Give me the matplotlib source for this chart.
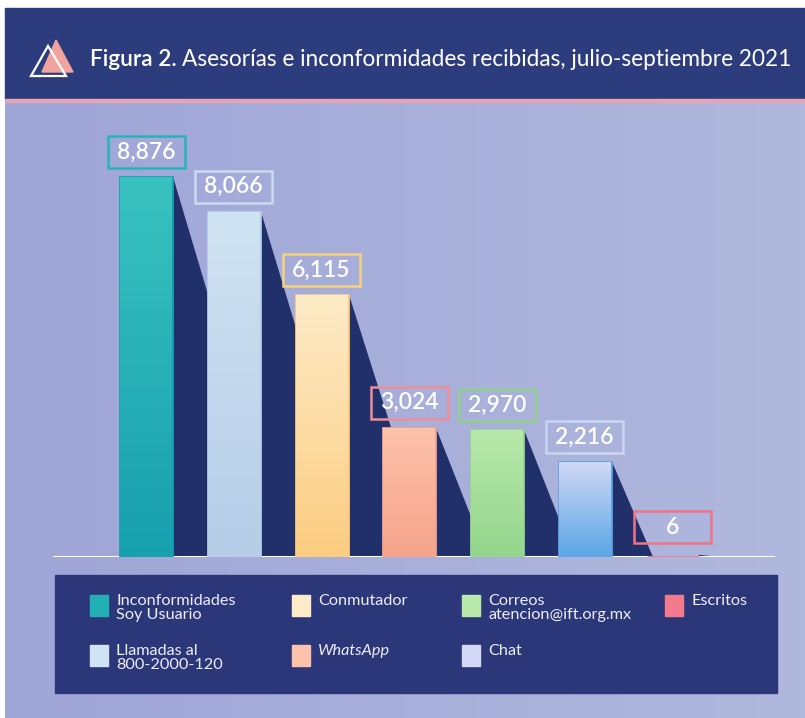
import matplotlib.pyplot as plt
import numpy as np
from matplotlib.patches import Rectangle, Polygon
from matplotlib.colors import to_rgb

plt.rcParams['font.family'] = ['Lato', 'DejaVu Sans']

categories = ['Inconformidades\nSoy Usuario', 'Llamadas al\n800-2000-120', 'Conmutador',
              'WhatsApp', 'Correos\natencion@ift.org.mx', 'Chat', 'Escritos']
values = [8876, 8066, 6115, 3024, 2970, 2216, 6]
labels = ['8,876', '8,066', '6,115', '3,024', '2,970', '2,216', '6']

# gradient colours (top, bottom) and label box edge colours
bar_top = ['#38c2bf', '#d0e3f2', '#feebc8', '#fcc2ab', '#b8e8aa', '#d2d8f6', '#f27a8c']
bar_bot = ['#17a0ae', '#b6cde8', '#fccd80', '#f7a38b', '#94d68d', '#5aa6e6', '#ee6a80']
box_col = ['#2ab3b6', '#c9dcef', '#f6d27c', '#ef8c96', '#8fd18b', '#c9d6f4', '#ef7486']

W, H = 805, 718
fig = plt.figure(figsize=(W / 100, H / 100), dpi=100, facecolor='white')

# ---- background layer in pixel coords ----
bg = fig.add_axes([0, 0, 1, 1])
bg.set_xlim(0, W)
bg.set_ylim(H, 0)
bg.axis('off')

c1, c2 = np.array(to_rgb('#9fa6d8')), np.array(to_rgb('#b0b8dd'))
gx = np.linspace(0, 1, 200)
grad = c1[None, None, :] * (1 - gx)[None, :, None] + c2[None, None, :] * gx[None, :, None]
bg.imshow(grad, extent=[5, W, H, 8], aspect='auto', zorder=0)

# header
bg.add_patch(Rectangle((5, 8), W - 5, 91, color='#2d3c7d', zorder=1))
bg.add_patch(Rectangle((5, 99), W - 5, 3, color='#e4a5b5', zorder=1))
bg.add_patch(Polygon([(56, 40), (42, 72), (73, 72)], closed=True, color='#f3a39f', zorder=2))
bg.add_patch(Polygon([(48, 46), (31, 76), (66, 76)], closed=True, fill=False,
                     edgecolor='white', lw=1.6, zorder=3))

t1 = bg.text(90, 59, 'Figura 2.', color='white', fontsize=16.3, fontweight='semibold',
             va='center', ha='left', zorder=3)
fig.canvas.draw()
bb = t1.get_window_extent(fig.canvas.get_renderer())
x_next = 90 + bb.width + 5
bg.text(x_next, 59, 'Asesorías e inconformidades recibidas, julio-septiembre 2021',
        color='white', fontsize=16.3, va='center', ha='left', zorder=3)

# legend box
bg.add_patch(Rectangle((55, 575), 722, 118, color='#2b3779', zorder=1))
leg_order = [0, 2, 4, 6, 1, 3, 5]
col_x = [90, 292, 462, 665]
row_y = [595, 645]
for k, i in enumerate(leg_order):
    cx = col_x[k % 4]
    ry = row_y[k // 4]
    bg.add_patch(Rectangle((cx, ry), 18, 21, color=bar_top[i] if i != 0 else '#22b0b4', zorder=2))
    style = 'italic' if categories[i] == 'WhatsApp' else 'normal'
    bg.text(cx + 26, ry - 1, categories[i], color='#eceef8', fontsize=11.7, style=style,
            va='top', ha='left', linespacing=1.0, zorder=3)

# ---- bar layer ----
base_px, left_px, right_px, top_px = 557, 53, 775, 110
ax = fig.add_axes([left_px / W, (H - base_px) / H, (right_px - left_px) / W, (base_px - top_px) / H])
ax.patch.set_alpha(0)
for s in ax.spines.values():
    s.set_visible(False)
ax.set_xticks([])
ax.set_yticks([])

px_per_val = 380 / 8876
ymax = (base_px - top_px) / px_per_val
px_per_x = 87.75
xmin = (left_px - 146) / px_per_x
xmax = (right_px - 146) / px_per_x
bw = 52 / px_per_x

x = np.arange(len(values))
for i, v in enumerate(values):
    xr = x[i] + bw / 2
    h_px = v * px_per_val
    off = (0.25 * h_px + 18) / px_per_x
    ax.add_patch(Polygon([(xr, max(v, 2.5 / px_per_val)), (xr, 0), (xr + off, 0)], closed=True,
                         color='#21306b', zorder=2))
ax.axhline(0, color='white', lw=2.2, zorder=2.5)

bars = ax.bar(x, values, width=bw, color=bar_bot, edgecolor=bar_bot, lw=2, zorder=3)
for i, b in enumerate(bars):
    t, bo = np.array(to_rgb(bar_top[i])), np.array(to_rgb(bar_bot[i]))
    g = np.linspace(0, 1, 100)
    arr = (bo[None, :] * (1 - g)[:, None] + t[None, :] * g[:, None])[:, None, :]
    im = ax.imshow(arr, extent=[b.get_x(), b.get_x() + bw, 0, values[i]],
                   origin='lower', aspect='auto', zorder=4)
    im.set_clip_path(b)

# value label boxes
box_w = 77 / px_per_x
box_h = 32 / px_per_val
gap = 9 / px_per_val
for i, v in enumerate(values):
    y0 = max(v + gap, 14 / px_per_val)
    ax.add_patch(Rectangle((x[i] - box_w / 2, y0), box_w, box_h, fill=False,
                           edgecolor=box_col[i], lw=1.8, zorder=5))
    ax.text(x[i], y0 + box_h / 2, labels[i], color='white', fontsize=16.5, fontweight='semibold',
            ha='center', va='center', zorder=6)

ax.set_xlim(xmin, xmax)
ax.set_ylim(0, ymax)

fig.savefig('out.png', dpi=100)
